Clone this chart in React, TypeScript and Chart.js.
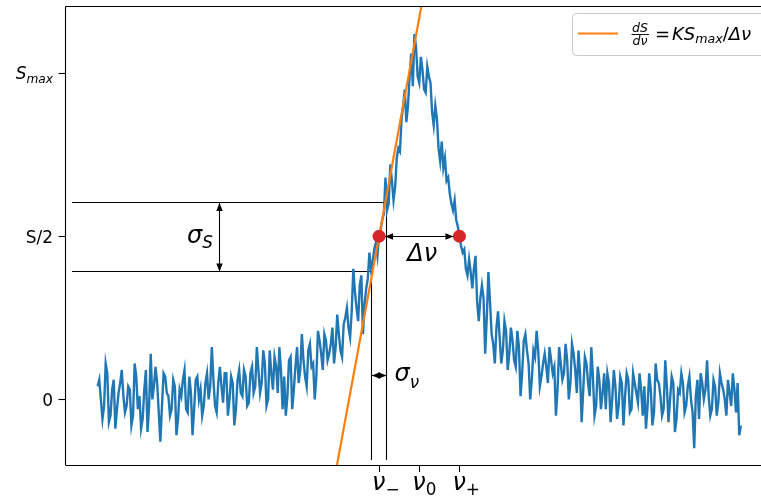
import { useEffect, useRef } from "react";
import { Chart, registerables } from "chart.js";

Chart.register(...registerables);

// Frequency grid in units of the half-width: ν0 = 0, ν− = −1, ν+ = +1
const FREQ_START = -8;
const FREQ_STEP = 0.04;

// Measured spectral line (noisy Lorentzian), one value per grid step
const signal = [
  0.04, 0.06, 0.0, -0.06, -0.02, 0.11, 0.08, -0.07, -0.05, 0.03, 0.06, -0.09, -0.03, 0.02, 0.05, 0.09, 0.01, -0.04, -0.02, 0.04,
  0.03, -0.08, -0.05, 0.11, 0.07, -0.03, 0.01, -0.09, -0.06, 0.03, 0.09, -0.1, -0.02, 0.14, 0.0, 0.04, 0.1, 0.05, -0.04, -0.13,
  -0.02, 0.08, 0.07, 0.02, 0.01, -0.05, -0.03, 0.06, 0.04, -0.11, -0.06, 0.03, 0.01, 0.06, 0.09, -0.03, -0.04, 0.07, 0.02, -0.11,
  -0.03, 0.06, 0.07, 0.0, 0.03, -0.05, -0.02, 0.05, 0.08, 0.0, 0.04, 0.16, 0.06, -0.02, -0.04, 0.05, 0.1, 0.04, -0.01, 0.08,
  0.08, -0.05, 0.0, 0.07, 0.05, -0.08, -0.03, 0.06, 0.09, 0.02, 0.01, 0.09, 0.07, -0.02, -0.01, 0.08, 0.1, 0.02, 0.04, 0.16,
  0.09, 0.02, 0.05, 0.15, 0.11, -0.02, 0.0, 0.15, 0.08, 0.03, 0.13, 0.1, 0.02, 0.16, 0.09, -0.03, 0.07, -0.05, 0.01, 0.12,
  0.13, -0.03, 0.03, 0.1, 0.16, 0.05, 0.09, 0.2, 0.12, 0.07, 0.04, 0.15, 0.17, 0.1, 0.11, 0.0, 0.07, 0.21, 0.18, 0.14,
  0.09, 0.2, 0.18, 0.12, 0.14, 0.17, 0.22, 0.11, 0.16, 0.26, 0.2, 0.15, 0.13, 0.23, 0.25, 0.28, 0.22, 0.19, 0.27, 0.4,
  0.33, 0.28, 0.24, 0.35, 0.38, 0.2, 0.29, 0.34, 0.37, 0.45, 0.4, 0.42, 0.46, 0.48, 0.44, 0.5, 0.52, 0.55, 0.57, 0.68,
  0.58, 0.6, 0.72, 0.67, 0.61, 0.65, 0.74, 0.77, 0.76, 0.86, 0.9, 0.95, 0.85, 0.9, 0.99, 1.06, 0.96, 1.12, 1.08, 0.99,
  0.97, 1.05, 1.01, 0.95, 0.94, 1.02, 0.99, 0.97, 0.88, 0.84, 0.9, 0.86, 0.77, 0.73, 0.79, 0.71, 0.74, 0.67, 0.68, 0.63,
  0.6, 0.58, 0.61, 0.55, 0.53, 0.5, 0.47, 0.45, 0.46, 0.4, 0.38, 0.43, 0.39, 0.34, 0.4, 0.44, 0.3, 0.24, 0.31, 0.35,
  0.31, 0.14, 0.25, 0.39, 0.3, 0.2, 0.17, 0.11, 0.22, 0.27, 0.19, 0.11, 0.15, 0.24, 0.21, 0.09, 0.14, 0.22, 0.18, 0.12,
  0.1, 0.21, 0.16, 0.01, 0.08, 0.18, 0.2, 0.15, 0.11, 0.0, 0.06, 0.15, 0.13, 0.21, 0.15, 0.04, 0.07, 0.11, 0.14, 0.1,
  0.05, 0.16, 0.12, 0.08, 0.1, -0.05, 0.03, 0.16, 0.11, 0.06, 0.08, 0.17, 0.12, 0.0, 0.05, 0.17, 0.14, 0.09, 0.02, 0.15,
  0.08, -0.07, 0.03, 0.13, 0.11, 0.05, 0.01, 0.16, 0.07, -0.05, -0.02, 0.1, 0.06, -0.03, 0.02, 0.08, -0.03, 0.08, 0.05, -0.07,
  0.0, 0.09, 0.04, -0.06, -0.02, 0.07, 0.05, -0.08, 0.01, 0.08, 0.06, -0.04, -0.03, 0.08, 0.05, 0.02, -0.01, 0.08, 0.03, -0.05,
  0.04, -0.09, -0.02, 0.08, 0.03, -0.08, -0.04, 0.11, 0.06, 0.05, 0.01, -0.05, -0.03, 0.12, 0.04, -0.07, 0.0, 0.07, 0.05, -0.1,
  -0.06, 0.03, 0.02, 0.08, 0.05, -0.04, -0.02, 0.04, 0.07, 0.0, -0.04, -0.15, 0.01, 0.06, -0.06, 0.08, 0.05, 0.0, 0.03, 0.12,
  0.01, -0.05, -0.03, 0.06, 0.04, -0.05, -0.01, 0.08, 0.05, 0.03, 0.0, -0.05, 0.06, 0.02, -0.02, 0.08, 0.03, -0.04, 0.05, -0.11,
  -0.08,
];

// Tangent dS/dν = K·Smax/Δν through the half-maximum point ν−
const tangentFreq = [-2.1, 0.15];
const tangentSignal = [-0.237, 1.27];

// Half-maximum points ν− and ν+
const halfFreq = [-1, 1];
const halfSignal = [0.5, 0.5];

// Axis ticks
const xTickValues = [-1, 0, 1];
const xTickSubs = ["−", "0", "+"];
const yTickValues = [1, 0.5, 0];

// Uncertainty band around ν− (σν) and in signal (σS)
const sigmaNuBounds = [-1.177, -0.816];
const sigmaSBounds = [0.392, 0.602];
const guideStartFreq = -8.64;
const guideEndSignal = -0.186;
const sigmaSArrowFreq = -4.98;
const sigmaNuArrowSignal = 0.073;

const X_MIN = -8.8;
const X_MAX = 8.8;
const Y_MIN = -0.2012;
const Y_MAX = 1.2043;

const CANVAS_W = 790;
const CANVAS_H = 499;

const BLUE = "#1f77b4";
const ORANGE = "#ff7f0e";
const RED = "#d62728";
const FONT = '"DejaVu Sans", "Liberation Sans", sans-serif';

type Run = { t: string; size: number; italic?: boolean; dy?: number };

function fontOf(r: Run) {
  return `${r.italic ? "italic " : ""}${r.size}px ${FONT}`;
}

function drawRuns(ctx: CanvasRenderingContext2D, runs: Run[], x: number, y: number, align: "left" | "right" | "center" = "left") {
  const widths = runs.map((r) => {
    ctx.font = fontOf(r);
    return ctx.measureText(r.t).width;
  });
  const total = widths.reduce((a, b) => a + b, 0);
  let cx = align === "left" ? x : align === "right" ? x - total : x - total / 2;
  ctx.textAlign = "left";
  ctx.textBaseline = "alphabetic";
  runs.forEach((r, i) => {
    ctx.font = fontOf(r);
    ctx.fillText(r.t, cx, y + (r.dy || 0));
    cx += widths[i];
  });
}

// snap to the pixel grid so thin axis-parallel strokes stay sharp
const snap = (v: number) => Math.round(v - 0.5) + 0.5;

function line(ctx: CanvasRenderingContext2D, x1: number, y1: number, x2: number, y2: number) {
  if (x1 === x2) { x1 = snap(x1); x2 = x1; }
  if (y1 === y2) { y1 = snap(y1); y2 = y1; }
  ctx.beginPath();
  ctx.moveTo(x1, y1);
  ctx.lineTo(x2, y2);
  ctx.stroke();
}

function arrowHead(ctx: CanvasRenderingContext2D, tipX: number, tipY: number, fromX: number, fromY: number) {
  const ang = Math.atan2(tipY - fromY, tipX - fromX);
  const len = 8;
  const hw = 3.2;
  const bx = tipX - len * Math.cos(ang);
  const by = tipY - len * Math.sin(ang);
  ctx.beginPath();
  ctx.moveTo(tipX, tipY);
  ctx.lineTo(bx + hw * Math.sin(ang), by - hw * Math.cos(ang));
  ctx.lineTo(bx - hw * Math.sin(ang), by + hw * Math.cos(ang));
  ctx.closePath();
  ctx.fill();
}

function doubleArrow(ctx: CanvasRenderingContext2D, x1: number, y1: number, x2: number, y2: number) {
  if (x1 === x2) { x1 = snap(x1); x2 = x1; }
  if (y1 === y2) { y1 = snap(y1); y2 = y1; }
  line(ctx, x1, y1, x2, y2);
  arrowHead(ctx, x1, y1, x2, y2);
  arrowHead(ctx, x2, y2, x1, y1);
}

const decorPlugin = {
  id: "decor",
  beforeDatasetsDraw(chart: any) {
    const { ctx } = chart;
    const xs = chart.scales.x;
    const ys = chart.scales.y;
    const px = (v: number) => xs.getPixelForValue(v);
    const py = (v: number) => ys.getPixelForValue(v);
    ctx.save();
    ctx.strokeStyle = "#000";
    ctx.lineWidth = 1.1;
    // guide lines marking the σS band and the σν band
    line(ctx, px(guideStartFreq), py(sigmaSBounds[1]), px(sigmaNuBounds[1]), py(sigmaSBounds[1]));
    line(ctx, px(guideStartFreq), py(sigmaSBounds[0]), px(sigmaNuBounds[0]), py(sigmaSBounds[0]));
    line(ctx, px(sigmaNuBounds[1]), py(sigmaSBounds[1]), px(sigmaNuBounds[1]), py(guideEndSignal));
    line(ctx, px(sigmaNuBounds[0]), py(sigmaSBounds[0]), px(sigmaNuBounds[0]), py(guideEndSignal));
    ctx.restore();
  },
  afterDatasetsDraw(chart: any) {
    const { ctx, chartArea } = chart;
    const xs = chart.scales.x;
    const ys = chart.scales.y;
    const px = (v: number) => xs.getPixelForValue(v);
    const py = (v: number) => ys.getPixelForValue(v);
    ctx.save();
    ctx.fillStyle = "#000";
    ctx.strokeStyle = "#000";
    ctx.lineWidth = 1.1;

    // arrows
    doubleArrow(ctx, px(sigmaSArrowFreq), py(sigmaSBounds[1]), px(sigmaSArrowFreq), py(sigmaSBounds[0]));
    doubleArrow(ctx, px(halfFreq[0]) + 6, py(0.5), px(halfFreq[1]) - 6, py(0.5));
    doubleArrow(ctx, px(sigmaNuBounds[0]), py(sigmaNuArrowSignal), px(sigmaNuBounds[1]), py(sigmaNuArrowSignal));

    // annotation labels
    drawRuns(ctx, [
      { t: "σ", size: 24, italic: true },
      { t: "S", size: 16.8, italic: true, dy: 5 },
    ], px(sigmaSArrowFreq) - 32, py(0.5) + 7);
    drawRuns(ctx, [
      { t: "Δ", size: 24, italic: true },
      { t: "ν", size: 24, italic: true },
    ], (px(halfFreq[0]) + px(halfFreq[1])) / 2 + 3, py(0.5) + 25, "center");
    drawRuns(ctx, [
      { t: "σ", size: 24, italic: true },
      { t: "ν", size: 16.8, italic: true, dy: 7 },
    ], px(sigmaNuBounds[1]) + 8, py(sigmaNuArrowSignal) + 5);

    // spines
    ctx.lineWidth = 1.1;
    line(ctx, chartArea.left, chartArea.top, chartArea.left, chartArea.bottom);
    line(ctx, chartArea.left, chartArea.bottom, chartArea.right, chartArea.bottom);
    line(ctx, chartArea.left, chartArea.top, chartArea.right, chartArea.top);
    line(ctx, chartArea.right, chartArea.top, chartArea.right, chartArea.bottom);

    // y ticks
    yTickValues.forEach((v) => {
      const y = py(v);
      line(ctx, chartArea.left - 7, y, chartArea.left, y);
    });
    drawRuns(ctx, [
      { t: "S", size: 17, italic: true },
      { t: "max", size: 12.2, italic: true, dy: 3.5 },
    ], 53, py(1) + 6.3, "right");
    drawRuns(ctx, [{ t: "S/2", size: 17 }], 53, py(0.5) + 6.3, "right");
    drawRuns(ctx, [{ t: "0", size: 17 }], 53, py(0) + 7, "right");

    // x ticks
    xTickValues.forEach((v, i) => {
      const x = px(v);
      line(ctx, x, chartArea.bottom, x, chartArea.bottom + 7);
      drawRuns(ctx, [
        { t: "ν", size: 24, italic: true },
        { t: xTickSubs[i], size: 16.8, dy: 5 },
      ], x - 7, chartArea.bottom + 25);
    });

    // legend
    ctx.beginPath();
    ctx.fillStyle = "rgba(255,255,255,0.8)";
    ctx.strokeStyle = "#cccccc";
    ctx.lineWidth = 1;
    ctx.roundRect(572.5, 13.5, 230, 42, 4);
    ctx.fill();
    ctx.stroke();
    ctx.strokeStyle = ORANGE;
    ctx.lineWidth = 2.2;
    line(ctx, 578, 33, 618, 33);
    ctx.fillStyle = "#000";
    drawRuns(ctx, [{ t: "dS", size: 12.6, italic: true }], 640, 31.5, "center");
    drawRuns(ctx, [{ t: "dν", size: 12.6, italic: true }], 640, 45, "center");
    ctx.strokeStyle = "#000";
    ctx.lineWidth = 0.9;
    line(ctx, 631.5, 34.5, 649, 34.5);
    drawRuns(ctx, [
      { t: "=", size: 18 },
      { t: " ", size: 6 },
      { t: "K", size: 18, italic: true },
      { t: "S", size: 18, italic: true },
      { t: "max", size: 12.6, italic: true, dy: 3 },
      { t: "/", size: 18 },
      { t: "Δ", size: 18, italic: true },
      { t: "ν", size: 18, italic: true },
    ], 655, 40);
    ctx.restore();
  },
};

export default function App() {
  const ref = useRef<HTMLCanvasElement>(null);

  useEffect(() => {
    const canvas = ref.current;
    if (!canvas) return;
    const spectrum = signal.map((v, i) => ({ x: FREQ_START + i * FREQ_STEP, y: v }));
    const tangent = tangentFreq.map((f, i) => ({ x: f, y: tangentSignal[i] }));
    const halfPoints = halfFreq.map((f, i) => ({ x: f, y: halfSignal[i] }));

    const chart = new Chart(canvas, {
      type: "line",
      data: {
        datasets: [
          {
            label: "half maximum",
            data: halfPoints,
            showLine: false,
            pointRadius: 6.5,
            pointBackgroundColor: RED,
            pointBorderWidth: 0,
            order: 0,
          },
          {
            label: "dS/dν = KSmax/Δν",
            data: tangent,
            borderColor: ORANGE,
            borderWidth: 2.2,
            pointRadius: 0,
            order: 1,
          },
          {
            label: "S",
            data: spectrum,
            borderColor: BLUE,
            borderWidth: 2.4,
            pointRadius: 0,
            tension: 0,
            order: 2,
          },
        ],
      },
      options: {
        animation: false,
        responsive: false,
        devicePixelRatio: 1,
        layout: { padding: { left: 65.5, top: 4, right: CANVAS_W - 773, bottom: CANVAS_H - 465 } },
        scales: {
          x: { type: "linear", min: X_MIN, max: X_MAX, display: false },
          y: { type: "linear", min: Y_MIN, max: Y_MAX, display: false },
        },
        plugins: {
          legend: { display: false },
          tooltip: { enabled: false },
        },
      },
      plugins: [decorPlugin],
    });
    return () => chart.destroy();
  }, []);

  return (
    <div
      style={{
        position: "absolute",
        left: 0,
        top: 0,
        width: 761,
        height: 499,
        overflow: "hidden",
        background: "#fff",
      }}
    >
      <canvas ref={ref} width={CANVAS_W} height={CANVAS_H} style={{ display: "block", width: CANVAS_W, height: CANVAS_H }} />
    </div>
  );
}
